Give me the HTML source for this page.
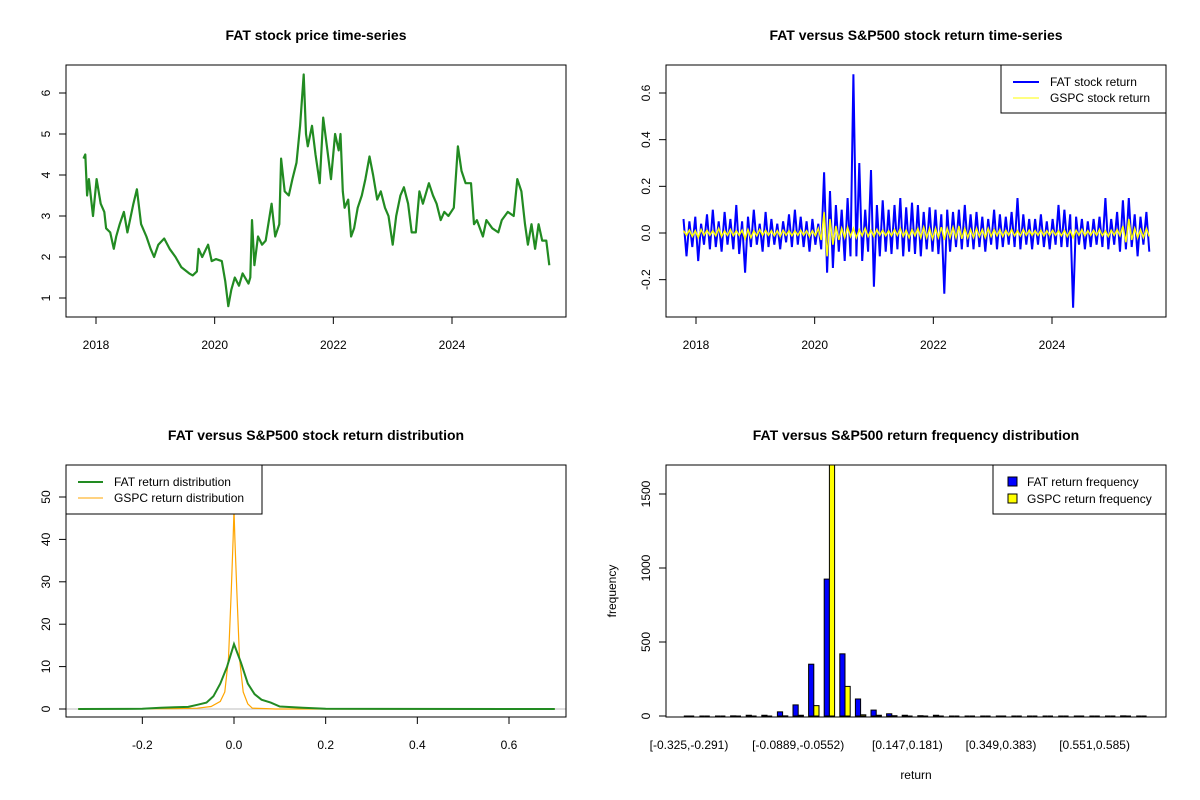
<!DOCTYPE html>
<html><head><meta charset="utf-8"><style>
body{margin:0;background:#fff}
svg{display:block;font-family:"Liberation Sans",Arial,sans-serif}
</style></head><body>
<svg id="c" width="1200" height="800" viewBox="0 0 1200 800"></svg>
<script>
// ---------- data ----------
const priceYears=[2017.79,2017.82,2017.85,2017.88,2017.95,2018.01,2018.08,2018.14,2018.17,2018.24,2018.30,2018.34,2018.40,2018.47,2018.53,2018.63,2018.69,2018.76,2018.85,2018.92,2018.98,2019.05,2019.15,2019.24,2019.34,2019.44,2019.57,2019.63,2019.70,2019.73,2019.79,2019.89,2019.95,2020.02,2020.12,2020.18,2020.23,2020.28,2020.34,2020.41,2020.47,2020.57,2020.60,2020.63,2020.67,2020.73,2020.80,2020.86,2020.96,2021.02,2021.09,2021.12,2021.18,2021.25,2021.31,2021.38,2021.44,2021.50,2021.54,2021.57,2021.64,2021.70,2021.77,2021.83,2021.90,2021.96,2022.03,2022.09,2022.12,2022.16,2022.19,2022.25,2022.30,2022.35,2022.41,2022.48,2022.54,2022.61,2022.67,2022.74,2022.80,2022.87,2022.93,2023.00,2023.06,2023.13,2023.19,2023.26,2023.32,2023.39,2023.45,2023.51,2023.61,2023.68,2023.74,2023.81,2023.87,2023.94,2024.03,2024.10,2024.16,2024.23,2024.32,2024.37,2024.42,2024.52,2024.58,2024.68,2024.78,2024.84,2024.94,2025.04,2025.10,2025.17,2025.23,2025.28,2025.34,2025.40,2025.46,2025.52,2025.59,2025.64];
const priceValues=[4.4,4.5,3.5,3.9,3.0,3.9,3.3,3.1,2.7,2.6,2.2,2.5,2.8,3.1,2.6,3.3,3.65,2.8,2.5,2.2,2.0,2.3,2.45,2.2,2.0,1.75,1.6,1.55,1.65,2.2,2.0,2.3,1.9,1.95,1.9,1.4,0.8,1.2,1.5,1.3,1.6,1.35,1.5,2.9,1.8,2.5,2.3,2.4,3.3,2.5,2.8,4.4,3.6,3.5,3.9,4.3,5.2,6.45,5.0,4.7,5.2,4.5,3.8,5.4,4.6,3.9,5.0,4.6,5.0,3.6,3.2,3.4,2.5,2.7,3.2,3.5,3.9,4.45,4.0,3.4,3.6,3.2,3.0,2.3,3.0,3.5,3.7,3.3,2.6,2.6,3.6,3.3,3.8,3.5,3.3,2.9,3.1,3.0,3.2,4.7,4.1,3.8,3.8,2.8,2.9,2.5,2.9,2.7,2.6,2.9,3.1,3.0,3.9,3.6,2.8,2.3,2.8,2.2,2.8,2.4,2.4,1.8];
const retStartYear=2017.79, retEndYear=2025.64;
const fatReturns=[0.06,-0.1,0.05,-0.06,0.07,-0.12,0.04,-0.05,0.08,-0.07,
0.1,-0.06,0.05,-0.08,0.09,-0.05,0.06,-0.07,0.12,-0.09,
0.05,-0.17,0.07,-0.06,0.1,-0.05,0.04,-0.08,0.09,-0.06,
0.06,-0.05,0.04,-0.07,0.05,-0.04,0.08,-0.06,0.1,-0.05,
0.07,-0.06,0.05,-0.08,0.06,-0.05,0.04,-0.07,0.26,-0.17,
0.18,-0.15,0.12,-0.08,0.1,-0.12,0.15,-0.1,0.68,-0.1,
0.3,-0.12,0.1,-0.08,0.27,-0.23,0.12,-0.1,0.14,-0.08,
0.1,-0.09,0.12,-0.07,0.15,-0.1,0.11,-0.08,0.13,-0.09,
0.12,-0.1,0.09,-0.07,0.11,-0.08,0.1,-0.09,0.08,-0.26,
0.1,-0.08,0.09,-0.06,0.1,-0.07,0.12,-0.06,0.08,-0.07,
0.09,-0.06,0.07,-0.08,0.06,-0.05,0.1,-0.07,0.08,-0.06,
0.07,-0.05,0.09,-0.06,0.15,-0.07,0.08,-0.05,0.06,-0.07,
0.06,-0.05,0.08,-0.06,0.05,-0.07,0.06,-0.05,0.12,-0.06,
0.1,-0.06,0.08,-0.32,0.07,-0.05,0.06,-0.07,0.05,-0.06,
0.06,-0.05,0.07,-0.06,0.15,-0.07,0.06,-0.05,0.09,-0.08,
0.14,-0.07,0.15,-0.06,0.08,-0.1,0.07,-0.05,0.09,-0.08];
const gspcReturns=[0.01,-0.01,0.012,-0.015,0.01,-0.02,0.015,-0.01,0.012,-0.01,
0.01,-0.012,0.02,-0.015,0.01,-0.01,0.015,-0.012,0.01,-0.01,
0.012,-0.025,0.015,-0.02,0.01,-0.012,0.015,-0.01,0.012,-0.01,
0.01,-0.012,0.01,-0.015,0.012,-0.01,0.01,-0.012,0.01,-0.01,
0.012,-0.01,0.01,-0.015,0.01,-0.012,0.02,-0.03,0.09,-0.1,
0.06,-0.05,0.03,-0.03,0.02,-0.02,0.025,-0.015,0.02,-0.02,
0.015,-0.012,0.02,-0.015,0.012,-0.015,0.015,-0.01,0.012,-0.012,
0.01,-0.012,0.015,-0.01,0.02,-0.015,0.012,-0.02,0.015,-0.012,
0.02,-0.02,0.025,-0.02,0.02,-0.025,0.02,-0.02,0.025,-0.03,
0.02,-0.02,0.025,-0.02,0.03,-0.025,0.02,-0.02,0.015,-0.02,
0.02,-0.015,0.015,-0.02,0.02,-0.015,0.015,-0.012,0.015,-0.015,
0.012,-0.01,0.015,-0.012,0.01,-0.012,0.015,-0.01,0.012,-0.01,
0.01,-0.01,0.012,-0.012,0.01,-0.01,0.012,-0.01,0.01,-0.012,
0.012,-0.015,0.01,-0.02,0.012,-0.01,0.015,-0.012,0.01,-0.01,
0.012,-0.01,0.015,-0.012,0.01,-0.015,0.012,-0.01,0.015,-0.012,
0.03,-0.04,0.06,-0.03,0.02,-0.02,0.015,-0.02,0.02,-0.015];
const yearTicks=[2018,2020,2022,2024];
const priceTicks=[1,2,3,4,5,6];
const retTicks=[-0.2,0,0.2,0.4,0.6];
const fatDensX=[-0.34,-0.2,-0.16,-0.13,-0.1,-0.08,-0.06,-0.045,-0.03,-0.015,0,0.015,0.03,0.045,0.06,0.08,0.1,0.13,0.15,0.2,0.7];
const fatDensY=[0,0.05,0.3,0.4,0.5,1,1.5,3,6,10,15.3,11,6,3.5,2.2,1.5,0.6,0.4,0.3,0.05,0];
const gspcDensX=[-0.34,-0.13,-0.08,-0.05,-0.03,-0.02,-0.012,-0.006,-0.002,0,0.002,0.006,0.012,0.02,0.03,0.04,0.07,0.09,0.7];
const gspcDensY=[0,0.1,0.2,0.6,1.8,4,12,28,40,47,40,28,12,4,1.2,0.2,0.1,0,0];
const densXTicks=[-0.2,0,0.2,0.4,0.6];
const densYTicks=[0,10,20,30,40,50];
const binLabels=["[-0.325,-0.291)","[-0.0889,-0.0552)","[0.147,0.181)","[0.349,0.383)","[0.551,0.585)"];
const binLabelIdx=[0,7,14,20,26];
const fatFreq=[0,0,0,1,5,5,28,75,350,925,420,115,40,15,5,2,5,0,0,0,0,0,0,0,0,0,0,0,1,0];
const gspcFreq=[0,0,0,0,0,0,1,5,70,1900,200,8,5,2,0,0,0,0,0,0,0,0,0,0,0,0,0,0,0,0];
const freqTicks=[0,500,1000,1500];

// ---------- helpers ----------
const svg=document.getElementById('c');
const NS='http://www.w3.org/2000/svg';
function mk(tag,attrs,parent){const e=document.createElementNS(NS,tag);for(const k in attrs)e.setAttribute(k,attrs[k]);(parent||svg).appendChild(e);return e;}
function txt(x,y,s,size,extra,parent){const t=mk('text',Object.assign({x:x,y:y,'font-size':size,'text-anchor':'middle',fill:'#000'},extra||{}),parent);t.textContent=s;return t;}
function lin(d0,d1,r0,r1){return v=>r0+(v-d0)/(d1-d0)*(r1-r0);}
function box(x0,y0,x1,y1,name){const r=mk('rect',{x:x0,y:y0,width:x1-x0,height:y1-y0,fill:'none',stroke:'#000','stroke-width':1});}
function yAxis(x0,ticks,sy,fmt,g){ticks.forEach(v=>{const y=sy(v);mk('line',{x1:x0,x2:x0-7,y1:y,y2:y,stroke:'#000'},g);const t=txt(x0-16,y,fmt(v),12,{transform:`rotate(-90 ${x0-16} ${y})`},g);});mk('line',{x1:x0,x2:x0,y1:sy(ticks[0]),y2:sy(ticks[ticks.length-1]),stroke:'#000'},g);}
function xAxis(y0,ticks,sx,fmt,g){ticks.forEach(v=>{const x=sx(v);mk('line',{x1:x,x2:x,y1:y0,y2:y0+7,stroke:'#000'},g);const t=txt(x,y0+32,fmt(v),12,{},g);});mk('line',{x1:sx(ticks[0]),x2:sx(ticks[ticks.length-1]),y1:y0,y2:y0,stroke:'#000'},g);}
function pathFrom(xs,ys,sx,sy){return xs.map((x,i)=>(i?'L':'M')+sx(x).toFixed(1)+','+sy(ys[i]).toFixed(1)).join('');}
function title(x,y,s){const t=txt(x,y,s,14,{'font-weight':'bold'});}
const f1=v=>String(v); const f2=v=>v===0?'0.0':v.toFixed(1);

// ---------- panel 1: price ----------
(function(){
const g=mk('g',{});
const sx=lin(2018,2024,96,452), sy=lin(1,6,298,93);
title(316,40,'FAT stock price time-series');
box(66,65,566,317,'price-plot-box');
yAxis(66,priceTicks,sy,f1,g);
xAxis(317,yearTicks,sx,f1,g);
const p=mk('path',{d:pathFrom(priceYears,priceValues,sx,sy),fill:'none',stroke:'#228B22','stroke-width':2.2,'stroke-linejoin':'round'},g);

})();

// ---------- panel 2: returns ----------
(function(){
const g=mk('g',{});
const sx=lin(2018,2024,696,1052), sy=lin(0,0.6,233,93);
title(916,40,'FAT versus S&P500 stock return time-series');
box(666,65,1166,317,'return-plot-box');
yAxis(666,retTicks,sy,f2,g);
xAxis(317,yearTicks,sx,f1,g);
const n=fatReturns.length, step=(retEndYear-retStartYear)/(n-1);
const yrs=fatReturns.map((_,i)=>retStartYear+i*step);
const p1=mk('path',{d:pathFrom(yrs,fatReturns,sx,sy),fill:'none',stroke:'#0000FF','stroke-width':2},g);

const yrs2=gspcReturns.map((_,i)=>retStartYear+i*(retEndYear-retStartYear)/(gspcReturns.length-1));
const p2=mk('path',{d:pathFrom(yrs2,gspcReturns,sx,sy),fill:'none',stroke:'#FFFF00','stroke-width':1.5},g);

const lg=mk('g',{});
mk('rect',{x:1001,y:65,width:165,height:48,fill:'#fff',stroke:'#000'},lg);
mk('line',{x1:1013,x2:1039,y1:82,y2:82,stroke:'#0000FF','stroke-width':2},lg);
mk('line',{x1:1013,x2:1039,y1:98,y2:98,stroke:'#FFFF00','stroke-width':1},lg);
txt(1050,86,'FAT stock return',12,{'text-anchor':'start'},lg);
txt(1050,102,'GSPC stock return',12,{'text-anchor':'start'},lg);
})();

// ---------- panel 3: density ----------
(function(){
const g=mk('g',{});
const sx=lin(0,0.6,234,509), sy=lin(0,50,709,497);
title(316,440,'FAT versus S&P500 stock return distribution');
mk('line',{x1:66,x2:566,y1:sy(0),y2:sy(0),stroke:'#bebebe'},g);
const p2=mk('path',{d:pathFrom(gspcDensX,gspcDensY,sx,sy),fill:'none',stroke:'#FFA500','stroke-width':1.2},g);

const p1=mk('path',{d:pathFrom(fatDensX,fatDensY,sx,sy),fill:'none',stroke:'#228B22','stroke-width':2},g);

box(66,465,566,717,'density-plot-box');
yAxis(66,densYTicks,sy,f1,g);
xAxis(717,densXTicks,sx,f2,g);
const lg=mk('g',{});
mk('rect',{x:66,y:465,width:196,height:49,fill:'#fff',stroke:'#000'},lg);
mk('line',{x1:78,x2:103,y1:482,y2:482,stroke:'#228B22','stroke-width':2},lg);
mk('line',{x1:78,x2:103,y1:498,y2:498,stroke:'#FFA500','stroke-width':1},lg);
txt(114,486,'FAT return distribution',12,{'text-anchor':'start'},lg);
txt(114,502,'GSPC return distribution',12,{'text-anchor':'start'},lg);
})();

// ---------- panel 4: histogram ----------
(function(){
const g=mk('g',{});
const sy=lin(0,1500,716,494);
const u=5.2, x0=678.6;
const gx=k=>x0+k*3*u+u; // left of first bar in group k
title(916,440,'FAT versus S&P500 return frequency distribution');
const clip=mk('clipPath',{id:'cl4'});mk('rect',{x:666,y:465,width:500,height:252},clip);
const bars=mk('g',{'clip-path':'url(#cl4)'},g);
function bar(x,v,fill,name){const y=sy(v);let r;
 if(v<=0){r=mk('line',{x1:x,x2:x+u,y1:y,y2:y,stroke:'#000','stroke-width':1},bars);}
 else{r=mk('rect',{x:x,y:y,width:u,height:sy(0)-y,fill:fill,stroke:'#000','stroke-width':1},bars);}
 }
fatFreq.forEach((v,k)=>bar(gx(k),v,'#0000FF','fat-freq-bar'));
gspcFreq.forEach((v,k)=>bar(gx(k)+u,v,'#FFFF00','gspc-freq-bar'));
box(666,465,1166,717,'frequency-plot-box');
yAxis(666,freqTicks,sy,f1,g);
binLabelIdx.forEach((k,i)=>{const t=txt(gx(k)+u,749,binLabels[i],12,{},g);});
const xt=txt(916,779,'return',12,{},g);
const yt=txt(616,591,'frequency',12,{transform:'rotate(-90 616 591)'},g);
const lg=mk('g',{});
mk('rect',{x:993,y:465,width:173,height:49,fill:'#fff',stroke:'#000'},lg);
mk('rect',{x:1008,y:477,width:9,height:9,fill:'#0000FF',stroke:'#000'},lg);
mk('rect',{x:1008,y:494,width:9,height:9,fill:'#FFFF00',stroke:'#000'},lg);
txt(1027,486,'FAT return frequency',12,{'text-anchor':'start'},lg);
txt(1027,503,'GSPC return frequency',12,{'text-anchor':'start'},lg);
})();
</script>
</body></html>
